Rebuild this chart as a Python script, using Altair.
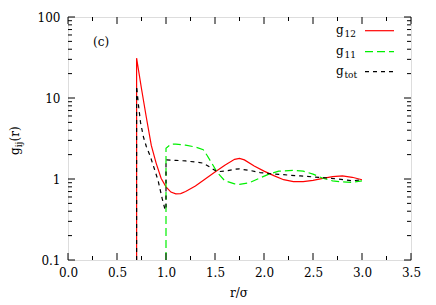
import altair as alt
import pandas as pd

# ---- data ----
x_g12 = [0.7, 0.7, 0.75, 0.8, 0.85, 0.9, 0.95, 1.0, 1.05, 1.1, 1.15, 1.2, 1.3, 1.4, 1.5, 1.6,
         1.7, 1.75, 1.8, 1.9, 2.0, 2.1, 2.2, 2.3, 2.4, 2.5, 2.6, 2.7, 2.8, 2.9, 3.0]
y_g12 = [0.1, 31, 13, 5.7, 2.6, 1.56, 1.02, 0.8, 0.69, 0.655, 0.66, 0.7, 0.82, 1.0, 1.22, 1.48,
         1.75, 1.8, 1.72, 1.45, 1.25, 1.1, 0.98, 0.93, 0.93, 0.96, 1.02, 1.07, 1.09, 1.05, 0.98]

x_g11 = [1.0, 1.0, 1.05, 1.1, 1.2, 1.3, 1.38, 1.42, 1.47, 1.52, 1.6, 1.7, 1.75, 1.85, 1.95,
         2.05, 2.15, 2.3, 2.4, 2.5, 2.6, 2.7, 2.8, 2.9, 3.0]
y_g11 = [0.1, 2.4, 2.68, 2.7, 2.62, 2.48, 2.3, 1.95, 1.55, 1.22, 0.95, 0.87, 0.86, 0.9, 1.02,
         1.15, 1.25, 1.28, 1.25, 1.15, 1.02, 0.95, 0.92, 0.91, 0.95]

x_gtot = [0.7, 0.7, 0.72, 0.74, 0.77, 0.8, 0.84, 0.88, 0.92, 0.96, 0.99, 1.0, 1.0, 1.1, 1.2,
          1.3, 1.38, 1.45, 1.52, 1.6, 1.7, 1.75, 1.85, 1.96, 2.1, 2.2, 2.37, 2.6, 2.75, 2.9, 3.0]
y_gtot = [0.1, 14, 8, 5, 3.3, 2.5, 1.9, 1.35, 0.95, 0.58, 0.42, 0.42, 1.72, 1.7, 1.67,
          1.62, 1.57, 1.4, 1.23, 1.25, 1.32, 1.33, 1.28, 1.2, 1.15, 1.13, 1.09, 1.04, 1.0, 0.95, 0.98]

x_ticks_major = [0.0, 0.5, 1.0, 1.5, 2.0, 2.5, 3.0, 3.5]
x_ticks_minor = [0.25, 0.75, 1.25, 1.75, 2.25, 2.75, 3.25]
y_ticks_major = [0.1, 1, 10, 100]
y_ticks_minor = [0.2, 0.3, 0.4, 0.5, 0.6, 0.7, 0.8, 0.9,
                 2, 3, 4, 5, 6, 7, 8, 9,
                 20, 30, 40, 50, 60, 70, 80, 90]

W, H = 343, 243
FONT = "DejaVu Serif"
GREEN = "#00f000"

xscale = alt.Scale(domain=[0, 3.5], nice=False, zero=False)
yscale = alt.Scale(type="log", domain=[0.1, 100], nice=False)

xaxis = alt.Axis(values=x_ticks_major, format=".1f", ticks=False, domain=False, grid=False,
                 labelFont=FONT, labelFontSize=12, labelColor="black", labelPadding=7,
                 labelFlush=False, title=None)
yaxis = alt.Axis(values=y_ticks_major, ticks=False, domain=False, grid=False,
                 labelExpr="datum.value < 1 ? '0.1' : format(datum.value, 'd')",
                 labelFont=FONT, labelFontSize=12, labelColor="black", labelPadding=8,
                 title=None)


def line_layer(xs, ys, color, dash=None):
    df = pd.DataFrame({"r": xs, "g": ys, "i": list(range(len(xs)))})
    kw = dict(color=color, strokeWidth=1.2, clip=True)
    if dash:
        kw["strokeDash"] = dash
    return alt.Chart(df).mark_line(**kw).encode(
        x=alt.X("r:Q", scale=xscale, axis=xaxis),
        y=alt.Y("g:Q", scale=yscale, axis=yaxis),
        order="i:Q",
    )


l12 = line_layer(x_g12, y_g12, "#ff0000")
l11 = line_layer(x_g11, y_g11, GREEN, dash=[8, 4])
ltot = line_layer(x_gtot, y_gtot, "black", dash=[4, 4])

# ---- inward ticks on all four sides ----
def xticks(vals, length):
    df = pd.DataFrame({"v": vals})
    base = alt.Chart(df).mark_rule(color="black", strokeWidth=1)
    b = base.encode(x=alt.X("v:Q", scale=xscale, axis=xaxis), y=alt.value(H), y2=alt.value(H - length))
    t = base.encode(x=alt.X("v:Q", scale=xscale, axis=xaxis), y=alt.value(0), y2=alt.value(length))
    return [b, t]


def yticks(vals, length):
    df = pd.DataFrame({"v": vals})
    base = alt.Chart(df).mark_rule(color="black", strokeWidth=1)
    l = base.encode(y=alt.Y("v:Q", scale=yscale, axis=yaxis), x=alt.value(0), x2=alt.value(length))
    r = base.encode(y=alt.Y("v:Q", scale=yscale, axis=yaxis), x=alt.value(W), x2=alt.value(W - length))
    return [l, r]


ticks = xticks(x_ticks_major, 7) + xticks(x_ticks_minor, 4) + yticks(y_ticks_major, 7) + yticks(y_ticks_minor, 4)

# ---- text annotations ----
one = pd.DataFrame({"a": [0]})


def txt(text, x, y, size=12, align="left", baseline="alphabetic", angle=0):
    kw = dict(text=text, font=FONT, fontSize=size, color="black", align=align, baseline=baseline)
    if angle:
        kw["angle"] = angle
    return alt.Chart(one).mark_text(**kw).encode(x=alt.value(x), y=alt.value(y))


def legline(y, color, dash=None):
    kw = dict(color=color, strokeWidth=1.2)
    if dash:
        kw["strokeDash"] = dash
    return alt.Chart(one).mark_rule(**kw).encode(x=alt.value(297), x2=alt.value(326), y=alt.value(y))


legend_series = ["12", "11", "tot"]
legend_colors = ["#ff0000", GREEN, "black"]
legend_dashes = [None, [8, 4], [4, 4]]
texts = []
for k, (sub, col, dsh) in enumerate(zip(legend_series, legend_colors, legend_dashes)):
    dy = [0, 21, 41][k]
    texts.append(txt("g", 268, 16.5 + dy, 12))
    texts.append(txt(sub, 276.5, 19.5 + dy, 9))
    texts.append(legline(13.7 + dy, col, dsh))

texts.append(txt("(c)", 25, 29, 12))
texts.append(txt("r/σ", 171, 276, 12, align="center", baseline="middle"))
# y title g_ij(r), rotated
texts.append(txt("g", -49, 155 - 17, 12, angle=270))
texts.append(txt("ij", -46, 147.3 - 17, 9, angle=270))
texts.append(txt("(r)", -49, 141.5 - 17, 12, angle=270))

chart = alt.layer(l12, l11, ltot, *ticks, *texts).properties(
    width=W, height=H,
    autosize=alt.AutoSizeParams(type="none"),
    padding={"left": 60, "top": 9, "right": 17, "bottom": 42},
).configure_view(stroke="black", strokeWidth=1).configure(background="white")

chart.save("out.html", embed_options={"renderer": "svg", "actions": False})
